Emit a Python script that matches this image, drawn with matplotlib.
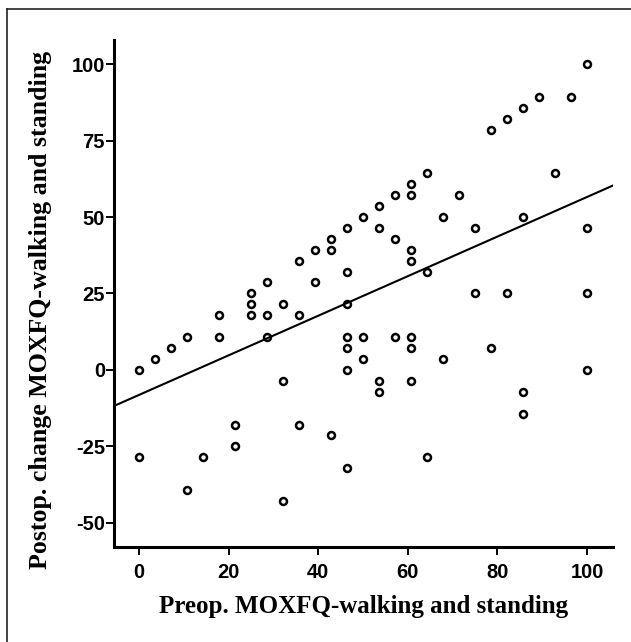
import matplotlib
matplotlib.use("Agg")
import matplotlib.pyplot as plt
from matplotlib.lines import Line2D
import numpy as np

plt.rcParams["axes.unicode_minus"] = False

# Preop. MOXFQ walking/standing score vs postoperative change
preop = [0, 0, 3.57, 7.14, 10.7, 10.7, 14.3, 17.9, 17.9, 21.4, 21.4,
         25, 25, 25, 28.6, 28.6, 28.6, 32.1, 32.1, 32.1, 35.7, 35.7, 35.7,
         39.3, 39.3, 42.9, 42.9, 42.9, 46.4, 46.4, 46.4, 46.4, 46.4, 46.4, 46.4,
         50, 50, 50, 53.6, 53.6, 53.6, 53.6, 57.1, 57.1, 57.1,
         60.7, 60.7, 60.7, 60.7, 60.7, 60.7, 60.7, 64.3, 64.3, 64.3,
         67.9, 67.9, 71.4, 75, 75, 78.6, 78.6, 82.1, 82.1,
         85.7, 85.7, 85.7, 85.7, 89.3, 92.9, 96.4, 100, 100, 100, 100]
change = [0, -28.6, 3.57, 7.14, 10.7, -39.3, -28.6, 17.9, 10.7, -17.9, -25,
          25, 21.4, 17.9, 28.6, 17.9, 10.7, 21.4, -3.57, -42.9, 35.7, 17.9, -17.9,
          39.3, 28.6, 42.9, 39.3, -21.4, 46.4, 32.1, 21.4, 10.7, 7.14, 0, -32.1,
          50, 10.7, 3.57, 53.6, 46.4, -3.57, -7.14, 57.1, 42.9, 10.7,
          60.7, 57.1, 39.3, 35.7, 10.7, 7.14, -3.57, 64.3, 32.1, -28.6,
          50, 3.57, 57.1, 46.4, 25, 78.6, 7.14, 82.1, 25,
          85.7, 50, -7.14, -14.3, 89.3, 64.3, 89.3, 100, 46.4, 25, 0]

# fit line as drawn in the chart
fit_intercept = -8.2
fit_slope = 0.648

x_ticks = [0, 20, 40, 60, 80, 100]
y_ticks = [-50, -25, 0, 25, 50, 75, 100]
x_label = "Preop. MOXFQ-walking and standing"
y_label = "Postop. change MOXFQ-walking and standing"

fig = plt.figure(figsize=(6.31, 6.42), dpi=100)
ax = fig.add_axes([0.1807, 0.148, 0.7908, 0.7897])

ax.plot(preop, change, linestyle="none", marker="o", markersize=5,
        markerfacecolor="white", markeredgecolor="black", markeredgewidth=1.8)

xmin, xmax = -5.6, 105.8
line_x = np.array([xmin, xmax])
ax.plot(line_x, fit_intercept + fit_slope * line_x, color="black", linewidth=1.5)

ax.set_xlim(xmin, xmax)
ax.set_ylim(-58, 108)
ax.set_xticks(x_ticks)
ax.set_yticks(y_ticks)

for side in ["top", "right"]:
    ax.spines[side].set_visible(False)
for side in ["left", "bottom"]:
    ax.spines[side].set_linewidth(2.2)

ax.tick_params(direction="out", length=5.5, width=1.4)
ax.tick_params(axis="x", pad=6)
ax.tick_params(axis="y", pad=1)
for lab in ax.get_xticklabels() + ax.get_yticklabels():
    lab.set_fontfamily("Liberation Sans")
    lab.set_fontweight("bold")
    lab.set_fontsize(14.5)

ax.set_xlabel(x_label, family="Liberation Serif", fontweight="bold", fontsize=18)
ax.set_ylabel(y_label, family="Liberation Serif", fontweight="bold", fontsize=18.6)
ax.xaxis.set_label_coords(0.5, -0.095)
ax.yaxis.set_label_coords(-0.125, 0.468)

# thin frame on the top and left edge of the picture
fig.add_artist(Line2D([7 / 631, 1], [1 - 9 / 642, 1 - 9 / 642], color="#222222", linewidth=1.2))
fig.add_artist(Line2D([7 / 631, 7 / 631], [0, 1 - 9 / 642], color="#222222", linewidth=1.2))

fig.savefig("out.png", dpi=100)
